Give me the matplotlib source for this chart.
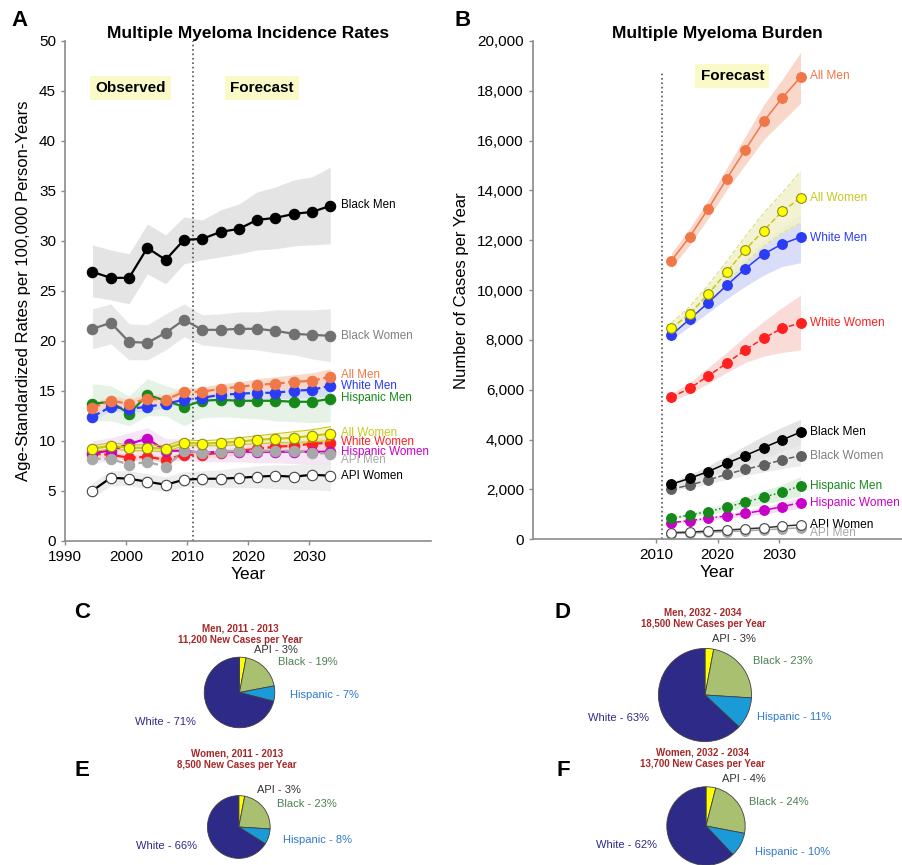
import matplotlib
matplotlib.use("Agg")
import matplotlib.pyplot as plt
import numpy as np

plt.rcParams['font.family'] = ['Liberation Sans', 'DejaVu Sans']

# ---------------- Panel A data (incidence rates) ----------------
years_a = [1994.5, 1997.5, 2000.5, 2003.5, 2006.5, 2009.5, 2012.5, 2015.5,
           2018.5, 2021.5, 2024.5, 2027.5, 2030.5, 2033.5]
black_men_a = [26.9, 26.3, 26.3, 29.3, 28.1, 30.1, 30.2, 30.9, 31.2, 32.1, 32.3, 32.7, 32.9, 33.5]
black_men_a_lo = [24.4, 24.1, 23.7, 26.7, 25.7, 27.7, 28.1, 28.4, 28.7, 29.1, 29.2, 29.5, 29.6, 29.7]
black_men_a_hi = [29.6, 29.1, 28.7, 31.7, 30.6, 32.4, 32.1, 33.1, 33.7, 34.9, 35.4, 36.1, 36.4, 37.4]
black_women_a = [21.2, 21.8, 19.9, 19.8, 20.8, 22.1, 21.1, 21.1, 21.2, 21.2, 21.0, 20.7, 20.6, 20.5]
black_women_a_lo = [19.2, 19.7, 18.1, 18.1, 19.1, 20.4, 19.6, 19.4, 19.2, 19.1, 18.8, 18.6, 18.2, 17.9]
black_women_a_hi = [23.2, 23.7, 21.7, 21.6, 22.7, 23.7, 22.6, 22.7, 22.9, 22.9, 23.1, 23.1, 23.1, 23.2]
all_men_a = [13.3, 14.0, 13.7, 14.2, 14.1, 14.9, 14.9, 15.2, 15.4, 15.6, 15.7, 15.9, 16.0, 16.4]
all_men_a_lo = [12.8, 13.5, 13.2, 13.7, 13.6, 14.4, 14.5, 14.7, 14.9, 15.0, 15.1, 15.2, 15.3, 15.5]
all_men_a_hi = [13.8, 14.5, 14.2, 14.7, 14.6, 15.4, 15.3, 15.7, 15.9, 16.2, 16.4, 16.6, 16.8, 17.2]
white_men_a = [12.4, 13.4, 13.2, 13.4, 13.7, 14.1, 14.3, 14.6, 14.7, 14.8, 14.8, 15.0, 15.1, 15.5]
white_men_a_lo = [12.0, 13.0, 12.8, 13.0, 13.3, 13.7, 13.9, 14.1, 14.2, 14.2, 14.2, 14.3, 14.3, 14.5]
white_men_a_hi = [12.8, 13.8, 13.6, 13.8, 14.1, 14.5, 14.7, 15.0, 15.2, 15.4, 15.5, 15.7, 15.9, 16.3]
hisp_men_a = [13.7, 13.9, 12.7, 14.6, 14.0, 13.4, 14.0, 14.1, 14.0, 14.0, 14.0, 13.9, 13.9, 14.2]
hisp_men_a_lo = [12.0, 12.0, 11.5, 12.5, 12.5, 11.5, 12.3, 12.4, 12.3, 12.2, 12.0, 11.9, 11.8, 11.9]
hisp_men_a_hi = [15.7, 15.5, 14.5, 16.2, 15.5, 15.0, 15.5, 15.6, 15.6, 15.7, 15.8, 15.9, 16.0, 16.2]
all_women_a = [9.2, 9.5, 9.3, 9.3, 9.2, 9.8, 9.7, 9.8, 9.9, 10.1, 10.2, 10.3, 10.5, 10.7]
all_women_a_lo = [8.9, 9.2, 9.0, 9.0, 8.9, 9.5, 9.5, 9.5, 9.6, 9.7, 9.8, 9.8, 9.9, 10.0]
all_women_a_hi = [9.5, 9.8, 9.6, 9.6, 9.5, 10.1, 10.0, 10.1, 10.3, 10.5, 10.7, 10.9, 11.1, 11.4]
white_women_a = [8.7, 8.6, 8.3, 8.4, 8.1, 8.6, 8.6, 8.8, 9.0, 9.2, 9.4, 9.5, 9.7, 9.8]
white_women_a_lo = [8.4, 8.3, 8.0, 8.1, 7.8, 8.3, 8.3, 8.4, 8.6, 8.7, 8.8, 8.9, 9.0, 9.1]
white_women_a_hi = [9.0, 8.9, 8.6, 8.7, 8.4, 8.9, 8.9, 9.1, 9.4, 9.6, 9.9, 10.1, 10.3, 10.5]
hisp_women_a = [8.8, 9.0, 9.7, 10.2, 9.0, 9.0, 8.8, 8.9, 8.9, 8.9, 8.9, 8.9, 8.9, 8.9]
hisp_women_a_lo = [7.8, 8.0, 8.5, 8.8, 8.0, 8.0, 7.9, 7.9, 7.9, 7.8, 7.8, 7.7, 7.7, 7.6]
hisp_women_a_hi = [10.0, 10.3, 10.8, 11.3, 10.2, 10.2, 9.8, 9.9, 9.9, 10.0, 10.0, 10.0, 10.1, 10.2]
api_men_a = [8.2, 8.2, 7.6, 7.9, 7.4, 9.0, 8.8, 8.9, 9.0, 9.0, 9.0, 9.0, 8.8, 8.7]
api_women_a = [5.0, 6.3, 6.2, 5.9, 5.6, 6.1, 6.2, 6.2, 6.3, 6.4, 6.5, 6.4, 6.6, 6.5]
api_women_a_lo = [4.3, 5.5, 5.5, 5.2, 4.9, 5.4, 5.4, 5.3, 5.3, 5.3, 5.2, 5.1, 5.1, 5.0]
api_women_a_hi = [5.8, 7.0, 7.0, 6.7, 6.4, 6.9, 7.0, 7.1, 7.3, 7.5, 7.6, 7.6, 7.8, 7.8]

# ---------------- Panel B data (number of cases) ----------------
years_b = [2012.5, 2015.5, 2018.5, 2021.5, 2024.5, 2027.5, 2030.5, 2033.5]
all_men_b = [11180, 12150, 13270, 14470, 15630, 16770, 17710, 18550]
all_men_b_lo = [10880, 11820, 12890, 14030, 15030, 16040, 16770, 17510]
all_men_b_hi = [11490, 12490, 13630, 14900, 16170, 17440, 18450, 19540]
all_women_b = [8470, 9050, 9850, 10720, 11620, 12390, 13160, 13700]
all_women_b_lo = [8270, 8740, 9480, 10280, 11080, 11750, 12290, 12690]
all_women_b_hi = [8680, 9340, 10210, 11150, 12150, 13090, 13900, 14760]
white_men_b = [8200, 8840, 9500, 10190, 10860, 11450, 11850, 12130]
white_men_b_lo = [8000, 8550, 9100, 9650, 10150, 10600, 10950, 11100]
white_men_b_hi = [8400, 9100, 9850, 10650, 11350, 12000, 12500, 13050]
white_women_b = [5700, 6060, 6560, 7070, 7600, 8070, 8470, 8680]
white_women_b_lo = [5550, 5850, 6250, 6700, 7100, 7350, 7500, 7600]
white_women_b_hi = [5850, 6300, 6900, 7500, 8150, 8750, 9300, 9800]
black_men_b = [2210, 2450, 2720, 3050, 3360, 3680, 3990, 4300]
black_men_b_lo = [2100, 2300, 2500, 2750, 3000, 3250, 3500, 3800]
black_men_b_hi = [2300, 2600, 2950, 3350, 3750, 4150, 4500, 4820]
black_women_b = [2010, 2180, 2380, 2610, 2810, 2980, 3190, 3360]
black_women_b_lo = [1950, 2080, 2230, 2400, 2570, 2700, 2850, 2950]
black_women_b_hi = [2100, 2300, 2550, 2800, 3050, 3300, 3550, 3800]
hisp_men_b = [840, 980, 1110, 1290, 1490, 1690, 1890, 2150]
hisp_men_b_lo = [790, 900, 1000, 1130, 1280, 1420, 1560, 1750]
hisp_men_b_hi = [900, 1060, 1230, 1450, 1700, 1950, 2200, 2510]
hisp_women_b = [670, 750, 840, 940, 1040, 1160, 1310, 1470]
hisp_women_b_lo = [630, 700, 770, 850, 930, 1020, 1130, 1250]
hisp_women_b_hi = [710, 800, 910, 1030, 1150, 1300, 1480, 1680]
api_men_b = [230, 250, 280, 310, 340, 380, 420, 460]
api_women_b = [270, 290, 330, 370, 420, 460, 530, 580]

# ---------------- Pie data ----------------
pie_groups = ["API", "Black", "Hispanic", "White"]
pie_men_2011 = [3, 19, 7, 71]
pie_men_2032 = [3, 23, 11, 63]
pie_women_2011 = [3, 23, 8, 66]
pie_women_2032 = [4, 24, 10, 62]
pie_titles = ["Men, 2011 - 2013\n11,200 New Cases per Year",
              "Men, 2032 - 2034\n18,500 New Cases per Year",
              "Women, 2011 - 2013\n8,500 New Cases per Year",
              "Women, 2032 - 2034\n13,700 New Cases per Year"]

# ---------------- Figure ----------------
W, H = 903, 865
fig = plt.figure(figsize=(W / 100, H / 100), dpi=100)


def px_axes(x0, y0, x1, y1):
    """axes from pixel box (top-left origin)"""
    return fig.add_axes([x0 / W, 1 - y1 / H, (x1 - x0) / W, (y1 - y0) / H])


def style_axes(ax):
    for s in ["top", "right"]:
        ax.spines[s].set_visible(False)
    for s in ["left", "bottom"]:
        ax.spines[s].set_color("#8a8a8a")
        ax.spines[s].set_linewidth(1.2)
    ax.tick_params(colors="#8a8a8a", labelcolor="black", labelsize=11,
                   length=3, width=1)


ORANGE = "#f07848"
BLUE = "#2b3cf5"
GREEN = "#16891a"
YELLOW = "#ffff00"
YEDGE = "#8a8a20"
YLINE = "#c8c810"
RED = "#ff2020"
MAG = "#c800c8"
GRAY = "#707070"
LGRAY = "#a8a8a8"

# ----- Panel A -----
axA = px_axes(65, 41, 431, 540.7)
style_axes(axA)
axA.set_xlim(1990, 2050)
axA.set_ylim(0, 50)
axA.set_xticks([1990, 2000, 2010, 2020, 2030])
axA.set_yticks(range(0, 51, 5))

ya = np.array(years_a)
bands_a = [
    (black_men_a_lo, black_men_a_hi, "#e2e2e2"),
    (black_women_a_lo, black_women_a_hi, "#e6e6e6"),
    (hisp_men_a_lo, hisp_men_a_hi, "#e4f1e4"),
    (api_women_a_lo, api_women_a_hi, "#ececec"),
    (hisp_women_a_lo, hisp_women_a_hi, "#f3e4f3"),
    (white_men_a_lo, white_men_a_hi, "#d6ddf6"),
    (all_men_a_lo, all_men_a_hi, "#f8d6c6"),
    (white_women_a_lo, white_women_a_hi, "#f8d2d2"),
]
for lo, hi, c in bands_a:
    axA.fill_between(ya, lo, hi, color=c, lw=0, alpha=0.9)

ms = 7.5
axA.axvline(2011, color="#555555", ls=":", lw=1.2)
series_a = [
    (white_women_a, RED, RED, RED, "--"),
    (hisp_women_a, MAG, MAG, MAG, "-"),
    (api_men_a, LGRAY, LGRAY, LGRAY, "--"),
    (hisp_men_a, GREEN, GREEN, GREEN, "-"),
    (white_men_a, BLUE, BLUE, BLUE, "--"),
    (all_men_a, ORANGE, ORANGE, ORANGE, "--"),
]
for vals, lc, fc, ec, ls in series_a:
    axA.plot(ya, vals, color=lc, ls=ls, lw=1.6, marker="o", ms=ms,
             mfc=fc, mec=ec, mew=0.8)
# All Women band drawn over the lower series (semi-transparent)
axA.fill_between(ya, all_women_a_lo, all_women_a_hi, color="#f0f0a8", lw=0, alpha=0.6)
axA.plot(ya, all_women_a_lo, color=YLINE, lw=0.8)
axA.plot(ya, all_women_a_hi, color=YLINE, lw=0.8)
series_a2 = [
    (all_women_a, YLINE, YELLOW, YEDGE, "-"),
    (api_women_a, "black", "white", "#444444", "-"),
    (black_women_a, GRAY, GRAY, GRAY, "-"),
    (black_men_a, "black", "black", "black", "-"),
]
for vals, lc, fc, ec, ls in series_a2:
    axA.plot(ya, vals, color=lc, ls=ls, lw=1.6, marker="o", ms=ms,
             mfc=fc, mec=ec, mew=0.8)

labels_a = ["Black Men", "Black Women", "All Men", "White Men", "Hispanic Men",
            "All Women", "White Women", "Hispanic Women", "API Men", "API Women"]
label_a_y = [33.6, 20.5, 16.6, 15.5, 14.3, 10.8, 9.9, 8.9, 8.1, 6.5]
label_a_c = ["black", "#808080", ORANGE, BLUE, GREEN, "#c8c820", RED, MAG, LGRAY, "black"]
for t, yv, c in zip(labels_a, label_a_y, label_a_c):
    axA.text(2035.2, yv, t, color=c, fontsize=8.4, va="center", ha="left")

box = dict(boxstyle="square,pad=0.35", fc="#fafac8", ec="none")
axA.text(2000.7, 45.3, "Observed", fontsize=11, fontweight="bold", ha="center",
         va="center", bbox=box)
axA.text(2022.3, 45.3, "Forecast", fontsize=11, fontweight="bold", ha="center",
         va="center", bbox=box)
axA.set_title("Multiple Myeloma Incidence Rates", fontsize=12.5, fontweight="bold", pad=1)
axA.set_xlabel("Year", fontsize=12.5, labelpad=2)
axA.set_ylabel("Age-Standardized Rates per 100,000 Person-Years", fontsize=12, labelpad=6)

# ----- Panel B -----
axB = px_axes(533, 41, 902, 539.3)
style_axes(axB)
axB.set_xlim(1990, 2050)
axB.set_ylim(0, 20000)
axB.set_xticks([2010, 2020, 2030])
axB.set_yticks(range(0, 20001, 2000))
axB.set_yticklabels([f"{v:,}" for v in range(0, 20001, 2000)])

yb = np.array(years_b)
bands_b = [
    (all_men_b_lo, all_men_b_hi, "#f8d2c2"),
    (white_men_b_lo, white_men_b_hi, "#d4d8f8"),
    (all_women_b_lo, all_women_b_hi, "#f2f2cc"),
    (white_women_b_lo, white_women_b_hi, "#f8d6d2"),
    (black_men_b_lo, black_men_b_hi, "#e0e0e0"),
    (black_women_b_lo, black_women_b_hi, "#e8e8e8"),
    (hisp_men_b_lo, hisp_men_b_hi, "#dcefdc"),
    (hisp_women_b_lo, hisp_women_b_hi, "#f2dcf2"),
]
for lo, hi, c in bands_b:
    axB.fill_between(yb, lo, hi, color=c, lw=0, alpha=0.85)
axB.plot(yb, all_women_b_lo, color="#e0e090", lw=0.9, ls="--")
axB.plot(yb, all_women_b_hi, color="#e0e090", lw=0.9, ls="--")

axB.plot([2011, 2011], [0, 18700], color="#555555", ls=":", lw=1.2)
msb = 7
series_b = [
    (api_men_b, LGRAY, LGRAY, LGRAY, "-"),
    (api_women_b, "#333333", "white", "#444444", "-"),
    (hisp_women_b, MAG, MAG, MAG, "-."),
    (hisp_men_b, GREEN, GREEN, GREEN, ":"),
    (black_women_b, "#606060", "#606060", "#606060", "--"),
    (black_men_b, "black", "black", "black", "-"),
    (white_women_b, RED, RED, RED, "--"),
    (white_men_b, BLUE, BLUE, BLUE, "-"),
    (all_women_b, YLINE, YELLOW, YEDGE, "--"),
    (all_men_b, ORANGE, ORANGE, ORANGE, "-"),
]
for vals, lc, fc, ec, ls in series_b:
    axB.plot(yb, vals, color=lc, ls=ls, lw=1.1, marker="o", ms=msb,
             mfc=fc, mec=ec, mew=0.8)

labels_b = ["All Men", "All Women", "White Men", "White Women", "Black Men",
            "Black Women", "Hispanic Men", "Hispanic Women", "API Women", "API Men"]
label_b_y = [18600, 13700, 12100, 8680, 4300, 3350, 2150, 1450, 560, 250]
label_b_c = [ORANGE, "#c8c820", BLUE, RED, "black", "#808080", GREEN, MAG, "black", LGRAY]
for t, yv, c in zip(labels_b, label_b_y, label_b_c):
    axB.text(2035.0, yv, t, color=c, fontsize=8.6, va="center", ha="left")
axB.text(2022.4, 18600, "Forecast", fontsize=11, fontweight="bold", ha="center",
         va="center", bbox=box)
axB.set_title("Multiple Myeloma Burden", fontsize=12.5, fontweight="bold", pad=1)
axB.set_xlabel("Year", fontsize=12.5, labelpad=2)
axB.set_ylabel("Number of Cases per Year", fontsize=12, labelpad=6)

# panel letters
for lab, x, y in [("A", 20, 20), ("B", 463, 20), ("C", 82, 612), ("D", 563, 612),
                  ("E", 82, 770), ("F", 563, 770)]:
    fig.text(x / W, 1 - y / H, lab, fontsize=16, fontweight="bold", ha="center",
             va="center")

# ----- Pies -----
pie_colors = ["#ffff00", "#a8c070", "#1a9ad6", "#2e2a87"]
label_colors = ["#333333", "#4e7e52", "#2f78cc", "#2e2a87"]
pie_specs = [
    # center x, center y, radius, title x, title y, label positions
    (pie_men_2011, 239.5, 692.5, 36, 240, 634, [(254, 650), (278, 662), (290, 695), (135, 722)]),
    (pie_men_2032, 705, 695, 47.5, 703, 618, [(712, 639), (753, 661), (757, 717), (588, 718)]),
    (pie_women_2011, 238.8, 827, 32, 237, 759, [(257, 790), (277, 804), (283, 840), (136, 846)]),
    (pie_women_2032, 706, 826, 40, 703, 758, [(722, 779), (749, 802), (755, 852), (596, 845)]),
]
for (vals, cx, cy, r, tx, ty, lpos), title in zip(pie_specs, pie_titles):
    axp = px_axes(cx - r, cy - r, cx + r, cy + r)
    axp.pie(vals, colors=pie_colors, startangle=90, counterclock=False,
            radius=1, wedgeprops=dict(edgecolor="#404040", linewidth=0.6))
    axp.set_xlim(-1.02, 1.02)
    axp.set_ylim(-1.02, 1.02)
    axp.set_aspect("auto")
    axp.axis("off")
    fig.text(tx / W, 1 - ty / H, title, color="#a52828", fontsize=7,
             fontweight="bold", ha="center", va="center", linespacing=1.2)
    for g, v, (lx, ly), c in zip(pie_groups, vals, lpos, label_colors):
        fig.text(lx / W, 1 - ly / H, f"{g} - {v}%", color=c, fontsize=8,
                 ha="left", va="center")

fig.savefig("out.png", dpi=100)
